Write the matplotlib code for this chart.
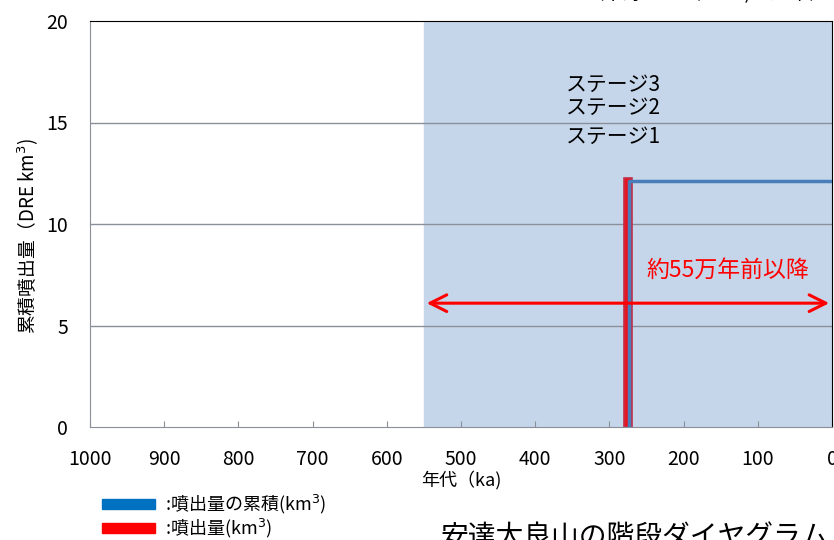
import matplotlib.pyplot as plt
from matplotlib.patches import Patch

plt.rcParams['font.family'] = ['Noto Sans CJK JP', 'DejaVu Sans']

# data (ka, km3)
stage_age = [275]
stage_volume = [12.25]
cum_age = [273, 273, 0]
cum_volume = [0, 12.1, 12.1]
shade_start = 550
stage_labels = ['ステージ3', 'ステージ2', 'ステージ1']
xticks = [1000, 900, 800, 700, 600, 500, 400, 300, 200, 100, 0]
yticks = [0, 5, 10, 15, 20]

fig = plt.figure(figsize=(8.34, 5.4), dpi=100)
ax = fig.add_axes([90/834, 1-427/540, 742/834, 406/540])

ax.axvspan(shade_start, 0, color='#c5d6ea', zorder=0)
for y in yticks[1:-1]:
    ax.axhline(y, color='#8a8f99', lw=1, zorder=1)

ax.bar(stage_age, stage_volume, width=11, color='#e8141e', edgecolor='#c0304a', lw=1.2, zorder=3)
ax.plot(cum_age, cum_volume, color='#4a7ebb', lw=2.5, zorder=4)

ax.annotate('', xy=(shade_start, 6.1), xytext=(0, 6.1),
            arrowprops=dict(arrowstyle='<->,head_length=1.2,head_width=0.6', color='#ff0000', lw=2.2),
            zorder=5)
ax.text(140, 7.7, '約55万年前以降', color='#ff0000', fontsize=16.5, ha='center', va='center', zorder=5)

for lab, y in zip(stage_labels, [16.85, 15.7, 14.3]):
    ax.text(358, y, lab, fontsize=15, ha='left', va='center', zorder=5)

ax.set_xlim(1000, 0)
ax.set_ylim(0, 20)
ax.set_xticks(xticks)
ax.set_yticks(yticks)
ax.tick_params(axis='x', direction='in', length=4, color='#8a8f99', labelsize=14, pad=16)
ax.tick_params(axis='y', length=0, labelsize=14, pad=16)
for s in ['left', 'bottom']:
    ax.spines[s].set_color('#8a8f99')
ax.spines['top'].set_color('black')
ax.spines['right'].set_color('black')

ax.set_xlabel('年代（ka)', fontsize=13, labelpad=0)
ax.set_ylabel('累積噴出量（DRE km$^3$)', fontsize=13.5)
ax.yaxis.set_label_coords(-0.066, 0.47)

fig.text(0.995, 1.012, '（中野ほか（2013)に加筆）', fontsize=14, ha='right', va='center')

handles = [Patch(color='#0070c0'), Patch(color='#ff0000')]
fig.legend(handles, [':噴出量の累積(km$^3$)', ':噴出量(km$^3$)'], loc='lower left',
           bbox_to_anchor=(86/834, -0.03), frameon=False, fontsize=13,
           handlelength=2.9, handleheight=0.45, handletextpad=0.6, labelspacing=0.05)

fig.text(440/834, 0.004, '安達太良山の階段ダイヤグラム', fontsize=20, ha='left', va='center')

fig.savefig('out.png', dpi=100)
